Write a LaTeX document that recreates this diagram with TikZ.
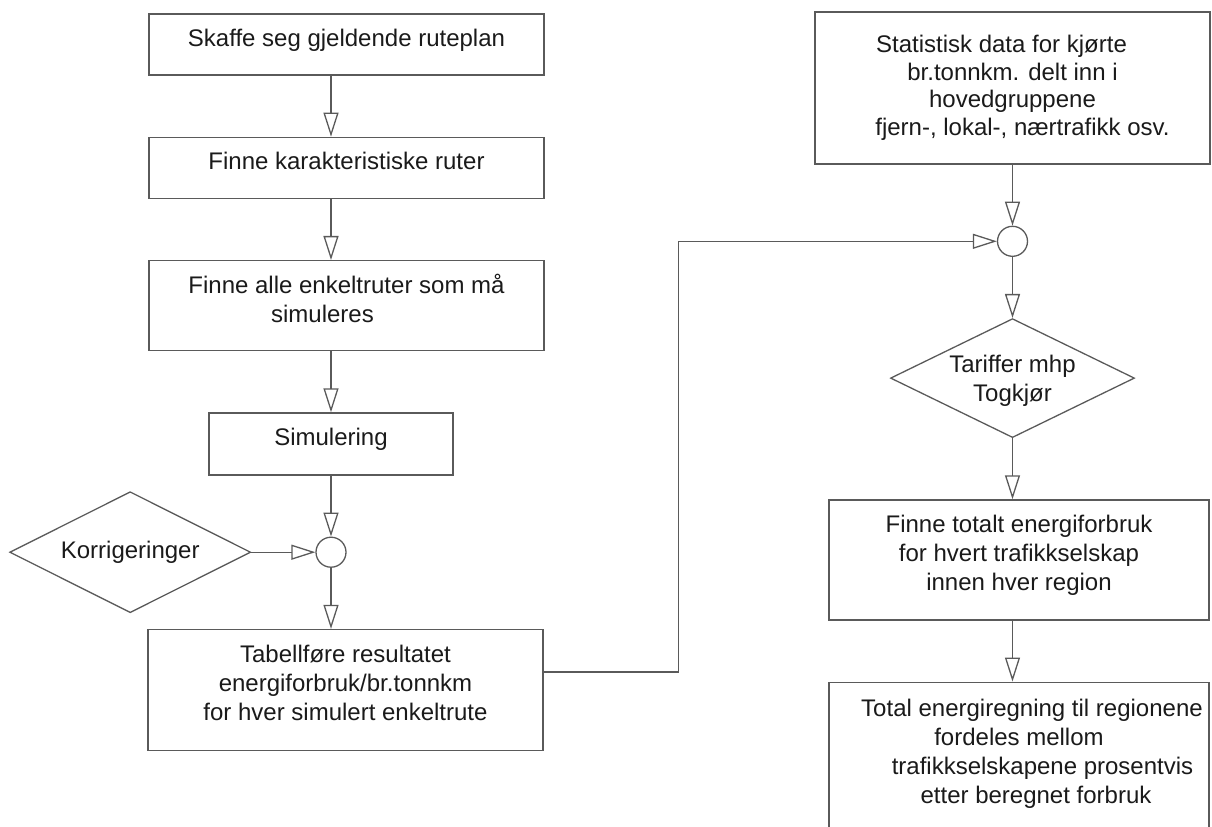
\documentclass[tikz,border=0pt]{standalone}
\usepackage{fontspec}
\setmainfont{Liberation Sans}
\usepackage{tikz}
\usetikzlibrary{arrows.meta,positioning,shapes.geometric}
\definecolor{linegray}{HTML}{5A5A5A}
\definecolor{ink}{HTML}{1A1A1A}

\begin{document}
\begin{tikzpicture}[
  x=0.5pt,y=-0.5pt,
  node distance=30.5pt,
  every node/.style={font=\fontsize{12}{14.5}\selectfont,align=center,text=ink},
  box/.style={draw=linegray,line width=0.65pt,minimum width=197.5pt,inner sep=2pt},
  lift/.style={text depth=7pt},
  junc/.style={circle,draw=linegray,line width=0.65pt,minimum size=15pt,inner sep=0pt},
  choice/.style={diamond,draw=linegray,line width=0.65pt,aspect=2,inner sep=0pt},
  arr/.style={-{Triangle[open,length=12pt,width=7.5pt]},line width=0.65pt,color=linegray}
]
\useasboundingbox (0,0) rectangle (1212,826);
% venstre kolonne
\node[box,lift,minimum height=30.5pt] (rute) at (346.5,44.5) {Skaffe seg gjeldende ruteplan};
\node[box,lift,minimum height=30.5pt,below=of rute] (karakt) {Finne karakteristiske ruter};
\node[box,lift,minimum height=45pt,below=of karakt] (enkelt) {Finne alle enkeltruter som må\\simuleres\hspace*{24pt}};
\node[box,lift,minimum width=122pt,minimum height=31pt,below=of enkelt,xshift=-7.75pt] (sim) {Simulering};
\node[junc,below=of sim] (sum1) {};
\node[choice,minimum width=120.5pt,minimum height=60.5pt,left=32pt of sum1] (korr) {Korrigeringer};
\node[box,lift,minimum height=60.5pt,below=of sum1,xshift=7.25pt] (tabell) {Tabellføre resultatet\\energiforbruk/br.tonnkm\\for hver simulert enkeltrute};
% hoyre kolonne
\node[box,minimum height=76pt,font=\fontsize{12}{13.75}\selectfont] (stat) at (1012.5,88) {Statistisk data for kjørte\hspace*{11pt}\\br.tonnkm. delt inn i\hspace*{16pt}\\hovedgruppene\hspace*{4pt}\\\hspace*{10pt}fjern-, lokal-, nærtrafikk osv.};
\node[junc,below=of stat] (sum2) {};
\node[choice,minimum width=122pt,minimum height=59.5pt,text depth=-5pt,below=of sum2] (tariff) {Tariffer mhp\\Togkjør};
\node[box,lift,minimum width=190pt,minimum height=60pt,below=of tariff,xshift=3.25pt] (finne) {Finne totalt energiforbruk\\for hvert trafikkselskap\\innen hver region};
\node[box,minimum width=190pt,minimum height=80pt,text depth=11pt,below=of finne] (total) {\hspace*{13pt}Total energiregning til regionene\\fordeles mellom\\\hspace*{23.5pt}trafikkselskapene prosentvis\\\hspace*{17pt}etter beregnet forbruk};
% piler
\draw[arr] (rute.south -| sum1) -- (karakt.north -| sum1);
\draw[arr] (karakt.south -| sum1) -- (enkelt.north -| sum1);
\draw[arr] (enkelt.south -| sum1) -- (sim.north -| sum1);
\draw[arr] (sim) -- (sum1);
\draw[arr] (korr) -- (sum1);
\draw[arr] (sum1) -- (sum1 |- tabell.north);
\draw[arr] ([yshift=9pt]tabell.east) -- ++(67.5pt,0) |- (sum2);
\draw[arr] (stat) -- (sum2);
\draw[arr] (sum2) -- (tariff);
\draw[arr] (tariff.south) -- (tariff.south |- finne.north);
\draw[arr] (finne.south -| tariff) -- (total.north -| tariff);
\end{tikzpicture}
\end{document}
